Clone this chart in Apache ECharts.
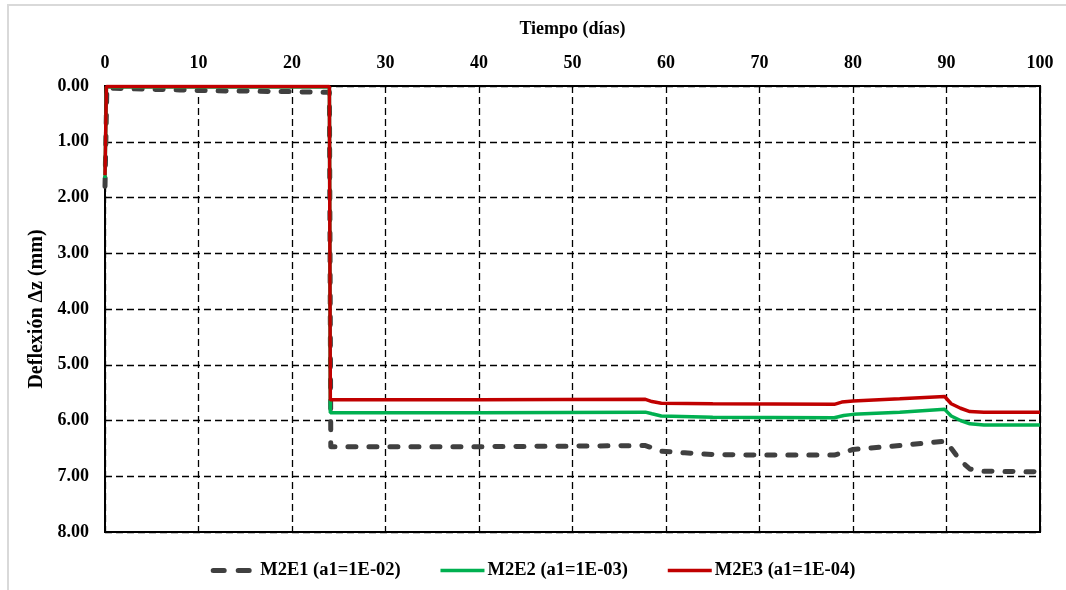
<!DOCTYPE html>
<html>
<head>
<meta charset="utf-8">
<script src="https://cdn.jsdelivr.net/npm/echarts@6/dist/echarts.min.js"></script>
<style>
html,body{margin:0;padding:0;background:#fff;}
#chart{width:1066px;height:590px;}
</style>
</head>
<body>
<div id="chart"></div>
<script>
var seriesNames = ['M2E1 (a1=1E-02)', 'M2E2 (a1=1E-03)', 'M2E3 (a1=1E-04)'];
var xTicks = [0, 10, 20, 30, 40, 50, 60, 70, 80, 90, 100];
var yTicks = [0, 1, 2, 3, 4, 5, 6, 7, 8];

var m2e1_t  = [0, 0.2, 1, 3, 5, 8, 10, 13, 15, 18, 20, 22, 24.0, 24.15, 30, 40, 50, 57.8, 58.5, 59.5, 62, 65, 70, 75, 78, 79, 80, 85, 89.8, 90.5, 91.5, 92.5, 94, 100];
var m2e1_dz = [1.8, 0.03, 0.04, 0.05, 0.06, 0.07, 0.08, 0.09, 0.09, 0.10, 0.10, 0.11, 0.11, 6.47, 6.47, 6.47, 6.46, 6.45, 6.49, 6.55, 6.58, 6.61, 6.62, 6.62, 6.62, 6.57, 6.52, 6.45, 6.37, 6.50, 6.72, 6.87, 6.91, 6.92];

var m2e2_t  = [0, 0.15, 10, 24.0, 24.1, 40, 57.8, 58.5, 59.5, 65, 78, 79, 80, 85, 89.8, 90.5, 91.5, 92.5, 94, 100];
var m2e2_dz = [1.65, 0.02, 0.02, 0.02, 5.86, 5.86, 5.85, 5.88, 5.92, 5.94, 5.95, 5.91, 5.89, 5.85, 5.80, 5.92, 6.00, 6.06, 6.08, 6.08];

var m2e3_t  = [0, 0.15, 10, 24.0, 24.1, 40, 57.8, 58.5, 59.5, 65, 78, 78.8, 80, 85, 89.8, 90.5, 91.5, 92.5, 94, 100];
var m2e3_dz = [1.6, 0.01, 0.01, 0.01, 5.63, 5.63, 5.62, 5.66, 5.69, 5.70, 5.71, 5.67, 5.65, 5.61, 5.57, 5.70, 5.78, 5.84, 5.85, 5.85];

function pairs(t, v){ return t.map(function(x,i){ return [x, v[i]]; }); }

var FONT = '"Liberation Serif", "Times New Roman", serif';
var chart = echarts.init(document.getElementById('chart'), null, {renderer:'canvas'});
chart.setOption({
  animation: false,
  backgroundColor: '#fff',
  textStyle: {fontFamily: FONT, color: '#000'},
  graphic: [{
    type: 'rect', silent: true, z: -10,
    shape: {x: 8, y: 5, width: 1200, height: 800},
    style: {fill: 'none', stroke: '#d9d9d9', lineWidth: 2}
  }],
  grid: {left: 105, right: 26, top: 86, bottom: 58, show: true, borderColor: '#000', borderWidth: 2, backgroundColor: 'transparent', containLabel: false},
  legend: {
    data: [
      {name: seriesNames[0], lineStyle: {width: 5, type: [11, 14], cap: 'round', color: '#404040'}},
      {name: seriesNames[1], lineStyle: {width: 3.5, color: '#00b050'}},
      {name: seriesNames[2], lineStyle: {width: 3.5, color: '#c00000'}}
    ],
    top: 556, left: 'center',
    itemWidth: 44, itemHeight: 14, itemGap: 38,
    itemStyle: {opacity: 0},
    textStyle: {fontFamily: FONT, fontSize: 18.5, fontWeight: 'bold', color: '#000', padding: [0, 0, 0, -2]}
  },
  xAxis: {
    type: 'value', position: 'top', min: 0, max: 100, interval: 10,
    name: 'Tiempo (días)', nameLocation: 'middle', nameGap: 48,
    nameTextStyle: {fontFamily: FONT, fontSize: 18, fontWeight: 'bold', color: '#000'},
    axisLine: {show: true, lineStyle: {color: '#000', width: 2}},
    axisTick: {show: false},
    axisLabel: {fontFamily: FONT, fontSize: 18, fontWeight: 'bold', color: '#000', margin: 14,
      formatter: function(v){ return xTicks.indexOf(v) >= 0 ? String(v) : ''; }},
    splitLine: {show: true, lineStyle: {color: '#000', width: 1.3, type: [7, 4]}}
  },
  yAxis: {
    type: 'value', inverse: true, min: 0, max: 8, interval: 1,
    name: 'Deflexión Δz (mm)', nameLocation: 'middle', nameGap: 51, nameRotate: 90,
    nameTextStyle: {fontFamily: FONT, fontSize: 20, fontWeight: 'bold', color: '#000'},
    axisLine: {show: true, lineStyle: {color: '#000', width: 2}},
    axisTick: {show: false},
    axisLabel: {fontFamily: FONT, fontSize: 18, fontWeight: 'bold', color: '#000', margin: 16,
      formatter: function(v){ return yTicks.indexOf(v) >= 0 ? v.toFixed(2) : ''; }},
    splitLine: {show: true, lineStyle: {color: '#000', width: 1.3, type: [7, 4]}}
  },
  series: [
    {name: seriesNames[0], type: 'line', data: pairs(m2e1_t, m2e1_dz), showSymbol: false, symbol: 'none',
     lineStyle: {color: '#404040', width: 5, type: [8, 13], cap: 'round', join: 'round'}, itemStyle: {color: '#404040'}, z: 3},
    {name: seriesNames[1], type: 'line', data: pairs(m2e2_t, m2e2_dz), showSymbol: false, symbol: 'none',
     lineStyle: {color: '#00b050', width: 3.5}, itemStyle: {color: '#00b050'}, z: 4},
    {name: seriesNames[2], type: 'line', data: pairs(m2e3_t, m2e3_dz), showSymbol: false, symbol: 'none',
     lineStyle: {color: '#c00000', width: 3.5}, itemStyle: {color: '#c00000'}, z: 5}
  ]
});
</script>
</body>
</html>
